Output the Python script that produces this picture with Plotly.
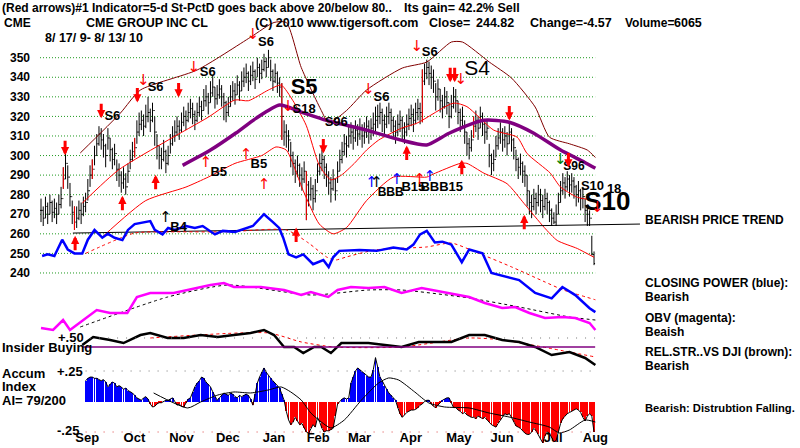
import plotly.graph_objects as go

W, H = 800, 448
FONT = "Liberation Sans, Arial, sans-serif"

# ---------------- price bars (daily, 8/17/09 - 8/13/10) ----------------
closes = [272, 268, 274, 270, 276, 271, 273, 270, 275, 278,
          288, 296, 289, 279, 271, 266, 268, 272, 270, 274,
          276, 282, 290, 293, 300, 306, 311, 308, 305, 300,
          309, 303, 298, 301, 293, 290, 286, 288, 284, 292,
          298, 302, 304, 312, 316, 318, 315, 320, 322, 318,
          323, 312, 305, 300, 298, 302, 296, 300, 306, 310,
          312, 315, 313, 317, 320, 318, 322, 324, 321, 318,
          322, 325, 323, 328, 330, 327, 332, 335, 329, 331,
          334, 330, 327, 322, 325, 330, 333, 331, 336, 333,
          338, 340, 342, 338, 341, 343, 339, 345, 342, 344,
          348, 345, 350, 343, 338, 342, 337, 335, 320, 312,
          310, 308, 300, 296, 292, 295, 290, 288, 292, 285,
          280, 283, 278, 282, 292, 296, 298, 294, 290, 286,
          283, 288, 282, 292, 298, 302, 306, 305, 310, 312,
          309, 313, 311, 314, 310, 312, 315, 312, 314, 316,
          318, 320, 322, 318, 316, 320, 322, 318, 315, 312,
          316, 318, 314, 312, 316, 319, 321, 318, 322, 324,
          322, 338, 342, 345, 342, 340, 338, 330, 334, 328,
          325, 330, 327, 320, 325, 330, 328, 322, 318, 320,
          312, 306, 304, 308, 315, 318, 314, 320, 316, 312,
          314, 300, 296, 298, 305, 309, 312, 308, 310, 306,
          312, 308, 304, 298, 294, 296, 292, 290, 282, 276,
          274, 278, 276, 280, 277, 274, 278, 276, 272, 268,
          266, 270, 276, 282, 286, 284, 288, 285, 287, 284,
          280, 282, 278, 279, 272, 270, 268, 249.39, 244.82]
highs = [278, 274, 279, 276, 280, 277, 278, 276, 280, 284,
         294, 301, 295, 286, 277, 274, 274, 277, 276, 279,
         281, 288, 295, 298, 305, 311, 315, 314, 311, 306,
         314, 309, 304, 306, 298, 296, 292, 294, 291, 296,
         303, 307, 309, 318, 322, 323, 321, 326, 330, 324,
         327, 320, 311, 305, 304, 308, 303, 305, 311, 315,
         318, 320, 318, 322, 325, 323, 327, 329, 327, 323,
         327, 330, 328, 334, 336, 332, 338, 341, 335, 336,
         339, 336, 332, 328, 330, 336, 338, 337, 341, 338,
         343, 345, 347, 343, 346, 348, 344, 350, 347, 349,
         352, 350, 354, 349, 344, 347, 343, 340, 337, 318,
         316, 313, 307, 302, 298, 300, 296, 294, 297, 292,
         287, 289, 285, 288, 296, 301, 303, 300, 296, 292,
         289, 293, 288, 297, 303, 307, 311, 310, 315, 317,
         315, 318, 316, 319, 316, 317, 320, 318, 319, 322,
         325, 326, 327, 324, 321, 325, 327, 324, 320, 318,
         321, 323, 320, 317, 321, 324, 326, 324, 327, 329,
         327, 344, 347, 349, 348, 346, 344, 337, 339, 334,
         331, 335, 333, 327, 331, 335, 334, 328, 324, 325,
         318, 312, 309, 313, 320, 323, 320, 325, 322, 318,
         318, 306, 301, 303, 310, 314, 317, 314, 315, 312,
         317, 314, 309, 303, 299, 301, 297, 295, 290, 282,
         280, 283, 281, 285, 283, 280, 283, 281, 277, 273,
         271, 275, 281, 287, 291, 289, 292, 290, 291, 289,
         285, 287, 283, 284, 278, 275, 272, 259, 251]
lows = [266, 264, 268, 265, 270, 266, 268, 265, 270, 273,
        283, 288, 283, 274, 265, 262, 263, 267, 265, 269,
        271, 277, 284, 288, 295, 300, 305, 303, 299, 294,
        303, 297, 293, 295, 287, 284, 281, 283, 280, 286,
        293, 297, 299, 306, 310, 313, 310, 314, 317, 312,
        317, 305, 298, 293, 293, 297, 291, 295, 301, 305,
        307, 310, 308, 312, 315, 313, 317, 319, 316, 313,
        317, 320, 318, 323, 325, 321, 327, 330, 324, 326,
        329, 325, 318, 317, 320, 325, 328, 326, 331, 328,
        333, 335, 337, 333, 336, 338, 334, 340, 337, 339,
        343, 340, 345, 338, 333, 337, 332, 330, 308, 305,
        304, 302, 294, 290, 286, 289, 284, 282, 286, 267,
        274, 277, 272, 276, 286, 290, 292, 288, 284, 280,
        276, 282, 277, 286, 292, 296, 300, 299, 304, 306,
        303, 307, 305, 308, 304, 306, 309, 306, 308, 310,
        312, 314, 316, 312, 310, 314, 316, 312, 309, 306,
        310, 312, 308, 306, 310, 313, 315, 312, 316, 318,
        316, 317, 336, 339, 336, 334, 332, 323, 328, 322,
        319, 324, 321, 314, 319, 324, 322, 316, 312, 314,
        306, 300, 298, 302, 309, 312, 308, 314, 310, 306,
        308, 294, 290, 292, 299, 303, 306, 302, 304, 300,
        306, 302, 298, 292, 288, 290, 286, 284, 274, 270,
        268, 272, 270, 274, 271, 268, 272, 270, 266, 264,
        265, 264, 270, 276, 280, 278, 282, 279, 281, 278,
        274, 276, 272, 273, 266, 264, 264, 249, 244]
red_bar_idx = [10, 15, 23, 42, 108, 119, 171, 194]

N = min(len(closes), len(highs), len(lows))
closes, highs, lows = closes[:N], highs[:N], lows[:N]
idx = list(range(N))
opens = [closes[0]] + closes[:-1]

# ---------------- bands / averages (knots: bar index, price) ----------------
upper_dark_i = [17.6, 35.6, 44.6, 70, 94, 104.5, 110, 116.7, 125.7, 129, 137, 146, 162, 173, 184, 189, 201, 211, 221.6, 228, 237, 245, 248.6]
upper_dark_p = [301.3, 321.7, 333.5, 343.7, 360.5, 368, 368, 345, 323, 316.6, 323, 333.5, 344.7, 347.8, 358, 358, 347.8, 339.6, 324.8, 309.4, 306, 302.8, 299]
upper_red_i = [18.5, 34.7, 57, 75, 87, 93, 102, 107.7, 113, 118.9, 124.8, 130, 134.7, 140.5, 146, 151.4, 161.7, 168.5, 185, 191, 203, 213.5, 218, 228.4, 232.9, 240.5, 249.5]
upper_red_p = [275.7, 292.6, 307.9, 319.6, 328.4, 328, 333.5, 336, 328, 315.5, 295, 287.6, 290, 296, 302.8, 307.9, 314, 316.5, 326.8, 325, 313, 309.4, 301, 291, 284, 278.7, 277]
lower_red_i = [27.5, 47, 65, 75, 87, 99, 105.4, 110, 117.6, 124.8, 131, 137, 146, 158, 173, 176, 188, 191, 198.6, 209, 216.7, 225.7, 231.5, 240.5, 248]
lower_red_p = [258.4, 277, 283.9, 289, 296, 300, 304.4, 302.8, 282, 265, 260, 263.2, 277, 289, 289, 290.6, 296, 296, 291, 285.6, 275.4, 263.2, 256.6, 252.5, 248]
ma_i = [63.5, 76, 87.4, 96.4, 107, 116.7, 128, 146, 161, 173, 183, 198.6, 210, 221, 233, 243.7, 248.6]
ma_p = [295, 302.8, 311.5, 319, 325.8, 322.2, 318, 313, 308, 305.4, 311.4, 318, 317, 311.4, 302.8, 296.6, 293.5]

# closing power (blue, plotted on price scale) and its MA (red dotted)
cp_i = [0.5, 3, 6, 9.5, 12, 15, 18.5, 21, 24, 27.5, 30, 33, 36.5, 39, 42, 47, 49, 51, 54.5, 57,
        60, 65, 69, 72.5, 78, 81.5, 87, 95, 100, 104, 106.8, 108.6, 111, 114.4, 117.6, 122, 126.6, 129, 131, 133.8,
        142.8, 150.5, 158, 164, 167, 170, 173, 176.6, 180, 184, 188.7, 192, 198, 202, 209, 214.4, 221.6, 229, 233.8, 239.6,
        246, 248.6]
cp_p = [248.7, 249.5, 248.7, 257, 252, 250, 250, 257, 262, 258, 260, 258, 256.8, 262, 265, 266, 266.5, 262, 259.7, 263,
        262, 264, 263, 264, 259.7, 261.5, 261, 264, 270, 266, 263, 258, 249.5, 248, 249.5, 244.5, 246.6, 243, 248, 251.3,
        251.8, 251.3, 253, 252, 254.5, 259.7, 261.5, 255.6, 256, 254.5, 245.5, 252, 250, 240, 238, 236.4, 229.8, 227, 232.8, 228.7,
        222, 220]
cpma_i = [20, 42, 58, 83, 110, 120, 128, 132, 137, 150, 173, 184, 196, 211, 226, 234, 248.6]
cpma_p = [250, 260.4, 261, 261, 262, 255.3, 248.2, 246.6, 248.2, 251.8, 253.3, 255.3, 250.2, 243.1, 235.4, 231.4, 226.3]

trend_i = [14.3, 268.6]
trend_p = [260.4, 265.0]

# ---------------- OBV (magenta) ----------------
obv_i = [0, 5.4, 9.9, 13, 19, 25, 31, 38.7, 43, 49, 59.5, 65.8, 76, 82, 86.5, 98.6, 109, 116.7, 121, 128.8,
         133, 139, 146.8, 154, 161.7, 170.7, 179.7, 192, 199, 206.8, 212.6, 219, 226, 233.8, 239.6, 246, 248.6]
obv_v = [0.7, 0.5, 1.5, 0.5, 1.5, 2.5, 2.2, 2.2, 3.8, 4.2, 4.2, 4.5, 5.0, 5.2, 4.8, 4.8, 4.5, 4.0, 4.3, 3.8,
         4.5, 4.8, 4.7, 4.8, 4.2, 4.7, 4.3, 3.8, 3.2, 2.7, 2.8, 2.2, 1.7, 1.8, 1.7, 1.2, 0.5]
obvt_i = [17.6, 56.8, 83.8, 121, 146.8, 161.7, 192, 214.4, 237, 248.6]
obvt_v = [0.8, 3.8, 5.0, 4.0, 4.5, 4.5, 3.7, 2.8, 1.8, 1.5]

# ---------------- relative strength vs DJI ----------------
rs_i = [18.5, 23.4, 31, 37, 44.6, 49, 56.8, 64, 71.6, 79.3, 86.5, 94, 100, 104.5, 109, 113.5, 117.6, 122.5, 125.7, 130,
        134.7, 146.8, 161.7, 169.4, 184, 192, 199, 206.8, 214.4, 221.6, 229, 237, 244, 248.6]
rs_v = [0.422, 0.511, 0.478, 0.444, 0.533, 0.556, 0.5, 0.5, 0.533, 0.511, 0.533, 0.556, 0.589, 0.533, 0.4, 0.4, 0.333, 0.4, 0.4, 0.333,
        0.444, 0.444, 0.4, 0.456, 0.456, 0.533, 0.533, 0.478, 0.456, 0.4, 0.311, 0.344, 0.278, 0.2]
rsma_i = [49, 102, 116.7, 131.5, 161.7, 192, 206.8, 248.6]
rsma_v = [0.5, 0.556, 0.456, 0.4, 0.4, 0.5, 0.478, 0.289]
rs_ref_level = 0.4
rs_label_level = 0.5

# ---------------- Accumulation index ----------------
AI_START = 20
ai_vals = [0.17, 0.19, 0.20, 0.20, 0.19, 0.19, 0.18, 0.17, 0.18, 0.16,
           0.12, 0.14, 0.16, 0.15, 0.12, 0.13, 0.12, 0.10, 0.11, 0.09,
           0.08, 0.07, 0.05, 0.03, 0.02, 0.01, 0.03, 0.04, 0.02, -0.02,
           -0.045, -0.04, -0.02, -0.01, -0.01, 0.00, 0.01, 0.01, 0.02, 0.03,
           0.00, -0.03, -0.02, -0.04, -0.045, -0.01, 0.02, 0.03, 0.08, 0.12,
           0.15, 0.17, 0.20, 0.19, 0.16, 0.14, 0.12, 0.08, 0.04, 0.01,
           0.03, 0.05, 0.07, 0.06, 0.05, 0.07, 0.06, 0.04, 0.03, 0.05,
           0.04, 0.05, 0.06, 0.05, 0.02, -0.03, 0.06, 0.15, 0.20, 0.24,
           0.275, 0.24, 0.21, 0.19, 0.17, 0.15, 0.13, 0.11, 0.06, 0.01,
           -0.08, -0.15, -0.19, -0.17, -0.13, -0.16, -0.19, -0.18, -0.22, -0.25,
           -0.26, -0.22, -0.19, -0.21, -0.13, -0.17, -0.22, -0.25, -0.24, -0.24,
           -0.23, -0.22, -0.12, -0.02, 0.00, 0.02, 0.03, 0.02, 0.03, 0.15,
           0.20, 0.25, 0.275, 0.26, 0.24, 0.23, 0.21, 0.20, 0.20, 0.26,
           0.36, 0.28, 0.20, 0.17, 0.13, 0.10, 0.07, 0.05, 0.03, 0.01,
           -0.05, -0.10, -0.13, -0.11, -0.09, -0.08, -0.07, -0.07, -0.065, -0.05,
           -0.03, -0.02, 0.00, 0.01, 0.01, -0.02, -0.04, -0.05, -0.03, -0.01,
           0.01, 0.02, 0.03, 0.03, -0.01, -0.05, -0.05, -0.07, -0.08, -0.10,
           -0.09, -0.11, -0.12, -0.13, -0.13, -0.14, -0.12, -0.13, -0.14, -0.13,
           -0.15, -0.17, -0.19, -0.20, -0.21, -0.18, -0.15, -0.12, -0.10, -0.11,
           -0.10, -0.13, -0.17, -0.20, -0.21, -0.22, -0.24, -0.26, -0.27, -0.27,
           -0.25, -0.22, -0.24, -0.27, -0.30, -0.34, -0.28, -0.25, -0.26, -0.30,
           -0.33, -0.32, -0.25, -0.18, -0.14, -0.12, -0.10, -0.09, -0.08, -0.07,
           -0.06, -0.07, -0.09, -0.13, -0.16, -0.12, -0.10, -0.12, -0.25]
ai_x = list(range(AI_START, AI_START + len(ai_vals)))
aima_i = [50.5, 65.8, 71.6, 79.3, 86.5, 94, 101.8, 107.7, 112, 116.7, 121, 125.7, 130, 136, 143.7, 151.4, 155.9, 160.4, 167.6, 173.9,
          181, 192, 200.9, 209.9, 218.9, 227.9, 232.4, 236.9, 244, 248.6]
aima_v = [0.07, -0.053, -0.004, 0.053, 0.078, 0.07, 0.094, 0.119, 0.078, 0.012, -0.094, -0.168, -0.217, -0.152, 0.012, 0.152, 0.193, 0.176, 0.078, -0.012,
          -0.045, -0.053, -0.094, -0.127, -0.168, -0.209, -0.258, -0.234, -0.152, -0.168]

# ---------------- axes labels ----------------
price_ticks = [240, 250, 260, 270, 280, 290, 300, 310, 320, 330, 340, 350]
month_labels = ["Sep", "Oct", "Nov", "Dec", "Jan", "Feb", "Mar", "Apr", "May", "Jun", "Jul", "Aug"]
month_pos = [20.7, 41.9, 63, 83.8, 104.5, 124.3, 142.8, 165.8, 187.4, 206.8, 229.7, 248.6]

# ---------------- signals ----------------
sig_text = ["S6", "S6", "S6", "S6", "S5", "S18", "S96", "S6", "S6", "S96", "S10", "18", "S10",
            "B5", "B5", "B4", "BBB", "B15", "BBB15"]
sig_i = [32, 51.4, 74.8, 100.9, 118, 118, 132.4, 152.7, 174.3, 239, 247.3, 257, 254,
         79.7, 97.7, 61.7, 156.8, 167, 179.7]
sig_p = [319.7, 334.5, 342.2, 357.5, 334.5, 323.3, 317, 329.4, 352.4, 294.1, 283.9, 282.3, 275.7,
         291.1, 295.2, 263.1, 280.8, 283.3, 283.3]
sig_size = [13, 13, 13, 13, 22, 13, 13, 13, 13, 12, 13, 13, 26,
            13, 13, 13, 12, 13, 13]
s4_i, s4_p = [195.5], [343.7]

thin_dn_i = [45.9, 68.5, 95, 110.8, 146.8, 168.5, 188.3, 249.5]
thin_dn_p = [338.2, 344.7, 361.6, 324.8, 333.5, 355.5, 338.6, 273.2]
thin_up_i = [73.9, 91.9, 100, 169.8]
thin_up_p = [296.2, 300.3, 284.9, 287.5]
blue_up_i = [148.2, 159.5, 174.3]
blue_up_p = [285.9, 287.5, 289.1]
black_up_i = [55.9, 150.5]
black_up_p = [268, 285.9]
green_dn_i = [232.9]
green_dn_p = [297.7]
thick_dn_i = [10.8, 27, 43.2, 61.7, 126.6, 183.5, 185.5, 210, 236.5]
thick_dn_p = [303.9, 322.8, 330.9, 333.5, 304.9, 341.2, 341.2, 321.7, 297.7]
thick_up_i = [15.3, 36.5, 51.4, 114.4, 164, 188.7, 216.7]
thick_up_p = [255.2, 275.7, 286.4, 259.4, 301.3, 294.1, 266]

# ================= figure =================
PX_PER_BAR = 2.23
X_LEFT_PX, X_RIGHT_PX = 40, 645
r0 = -0.45
r1 = r0 + (X_RIGHT_PX - X_LEFT_PX) / PX_PER_BAR


def dom(top_px, bot_px):
    return [1 - bot_px / H, 1 - top_px / H]


fig = go.Figure()

shapes = []
for v in price_ticks:
    shapes.append(dict(type="line", xref="x", yref="y", x0=r0, x1=N - 0.5, y0=v, y1=v,
                       line=dict(color="#1f9a1f", width=1, dash="1px,2px"), layer="below"))
shapes.append(dict(type="line", xref="x", yref="y3", x0=22, x1=N - 0.5, y0=rs_label_level, y1=rs_label_level,
                   line=dict(color="#777777", width=1, dash="1px,8px")))
shapes.append(dict(type="line", xref="x", yref="y3", x0=18.5, x1=N - 0.5, y0=rs_ref_level, y1=rs_ref_level,
                   line=dict(color="#800080", width=1.3)))
shapes.append(dict(type="line", xref="x", yref="y4", x0=20, x1=N - 0.5, y0=0.25, y1=0.25,
                   line=dict(color="#777777", width=1, dash="1px,8px")))
shapes.append(dict(type="line", xref="x", yref="y4", x0=20, x1=N - 0.5, y0=-0.25, y1=-0.25,
                   line=dict(color="#dd4444", width=1, dash="1px,8px")))


def line(xs, ys, color, width, yaxis="y", dash=None, shape="spline"):
    fig.add_trace(go.Scatter(x=xs, y=ys, mode="lines", yaxis=yaxis, hoverinfo="skip",
                             line=dict(color=color, width=width, dash=dash, shape=shape, smoothing=0.6)))


line(upper_dark_i, upper_dark_p, "#800000", 1)
line(upper_red_i, upper_red_p, "#ff0000", 1)
line(lower_red_i, lower_red_p, "#ff0000", 1)

fig.add_trace(go.Ohlc(x=idx, open=opens, high=highs, low=lows, close=closes, yaxis="y",
                      increasing_line_color="black", decreasing_line_color="black",
                      line_width=1, tickwidth=0.45, hoverinfo="skip"))
rb = [i for i in red_bar_idx if i < N]
fig.add_trace(go.Ohlc(x=rb, open=[opens[i] for i in rb], high=[highs[i] for i in rb],
                      low=[lows[i] for i in rb], close=[closes[i] for i in rb], yaxis="y",
                      increasing_line_color="#ff0000", decreasing_line_color="#ff0000",
                      line_width=1, tickwidth=0.01, hoverinfo="skip"))

line(ma_i, ma_p, "#800080", 3.5)
line(trend_i, trend_p, "black", 1, shape="linear")
line(cpma_i, cpma_p, "#ff0000", 1, dash="dot")
line(cp_i, cp_p, "#0000ff", 2.5, shape="linear")

line(obvt_i, obvt_v, "black", 1, yaxis="y2", dash="dot")
line(obv_i, obv_v, "#ff00ff", 2.5, yaxis="y2", shape="linear")

line(rsma_i, rsma_v, "#ff0000", 1, yaxis="y3", dash="dot")
line(rs_i, rs_v, "black", 2.5, yaxis="y3", shape="linear")

fig.add_trace(go.Bar(x=ai_x, y=ai_vals, yaxis="y4", width=0.42, hoverinfo="skip",
                     marker=dict(color=["#0000ff" if v >= 0 else "#ff0000" for v in ai_vals], line_width=0)))
line(ai_x, ai_vals, "black", 1, yaxis="y4", shape="linear")
line(aima_i, aima_v, "black", 1, yaxis="y4")

fig.add_trace(go.Scatter(x=sig_i, y=sig_p, mode="text", text=[f"<b>{t}</b>" for t in sig_text],
                         textfont=dict(family=FONT, size=sig_size, color="black"), cliponaxis=False,
                         hoverinfo="skip"))
fig.add_trace(go.Scatter(x=s4_i, y=s4_p, mode="text", text=["S4"],
                         textfont=dict(family=FONT, size=21, color="black"), cliponaxis=False, hoverinfo="skip"))


def glyphs(xs, ys, g, color, size=15):
    fig.add_trace(go.Scatter(x=xs, y=ys, mode="text", text=[g] * len(xs), cliponaxis=False,
                             textfont=dict(family="DejaVu Sans", size=size, color=color), hoverinfo="skip"))


glyphs(thin_dn_i, thin_dn_p, "↓", "#ff0000")
glyphs(thin_up_i, thin_up_p, "↑", "#ff0000")
glyphs(blue_up_i, blue_up_p, "↑", "#0000ff")
glyphs(black_up_i, black_up_p, "↑", "black")
glyphs(green_dn_i, green_dn_p, "↓", "#008000")

annots = []
for i, p in zip(thick_dn_i, thick_dn_p):
    annots.append(dict(x=i, y=p - 3.8, xref="x", yref="y", ax=0, ay=-16, text="", showarrow=True,
                       arrowhead=2, arrowsize=0.55, arrowwidth=3, arrowcolor="#ff0000"))
for i, p in zip(thick_up_i, thick_up_p):
    annots.append(dict(x=i, y=p + 3.8, xref="x", yref="y", ax=0, ay=16, text="", showarrow=True,
                       arrowhead=2, arrowsize=0.55, arrowwidth=3, arrowcolor="#ff0000"))


def txt(xp, yp, s, size=11, bold=True, color="black"):
    annots.append(dict(x=xp / W, y=1 - yp / H, xref="paper", yref="paper",
                       text=f"<b>{s}</b>" if bold else s, showarrow=False,
                       xanchor="left", yanchor="middle",
                       font=dict(family=FONT, size=size, color=color)))


txt(0, 8, "(Red arrows)#1 Indicator=5-d St-PctD goes back above 20/below 80..", 12)
txt(402, 8, "Its gain= 42.2% Sell", 12.5)
txt(2, 23, "CME", 12)
txt(84, 23, "CME GROUP INC CL", 12.5)
txt(253, 23, "(C) 2010 www.tigersoft.com", 12.5)
txt(427, 23, "Close=", 12.5)
txt(474, 23, "244.82", 12.5)
txt(528, 23, "Change=-4.57", 12.5)
txt(623, 23, "Volume=", 12)
txt(672, 23, "6065", 12.5)
txt(43, 38, "8/ 17/ 9- 8/ 13/ 10", 12.5)

txt(643, 220, "BEARISH PRICE TREND", 12)
txt(643, 283, "CLOSING POWER (blue):", 12)
txt(643, 297, "Bearish", 12)
txt(643, 318, "OBV (magenta):", 12)
txt(643, 332, "Beaish", 12)
txt(643, 352, "REL.STR..VS DJI (brown):", 12)
txt(643, 366, "Bearish", 12)
txt(643, 408, "Bearish: Distrubtion Falling.", 11.2)

txt(56, 337, "+.50", 13)
txt(0, 347, "Insider Buying", 13)
txt(0, 373, "Accum", 13)
txt(0, 386, "Index", 13)
txt(0, 400, "AI= 79/200", 13)
txt(55, 371, "+.25", 13)
txt(55, 430, "-.25", 13)

price_rng = [350 - (320 - 57.7) / 1.957, 350 + (57.7 - 15) / 1.957]
obv_rng = [-0.5, 6.5]
rs_rng = [0.5 - (375 - 338) / 90, 0.5 + (338 - 325) / 90]
ai_rng = [-(448 - 401.5) / 122, (401.5 - 355) / 122]

hidden = dict(showticklabels=False, showgrid=False, zeroline=False, showline=False, ticks="", fixedrange=True)

fig.update_layout(
    width=W, height=H, margin=dict(l=0, r=0, t=0, b=0),
    paper_bgcolor="white", plot_bgcolor="rgba(0,0,0,0)", showlegend=False,
    annotations=annots, shapes=shapes, bargap=0,
    xaxis=dict(domain=[X_LEFT_PX / W, X_RIGHT_PX / W], range=[r0, r1], anchor="free", position=1 - 428 / H,
               tickvals=month_pos, ticktext=month_labels, showgrid=False, zeroline=False, showline=False,
               ticks="", tickfont=dict(family=FONT, size=13, color="black", weight="bold"),
               rangeslider=dict(visible=False)),
    yaxis=dict(domain=dom(15, 320), range=price_rng, tickvals=price_ticks, showgrid=False, zeroline=False,
               showline=False, ticks="", ticklabelstandoff=9,
               tickfont=dict(family=FONT, size=12, color="black", weight="bold")),
    yaxis2=dict(domain=dom(270, 340), range=obv_rng, **hidden),
    yaxis3=dict(domain=dom(325, 375), range=rs_rng, **hidden),
    yaxis4=dict(domain=dom(355, 448), range=ai_rng, **hidden),
)

fig.write_html("out.html")
